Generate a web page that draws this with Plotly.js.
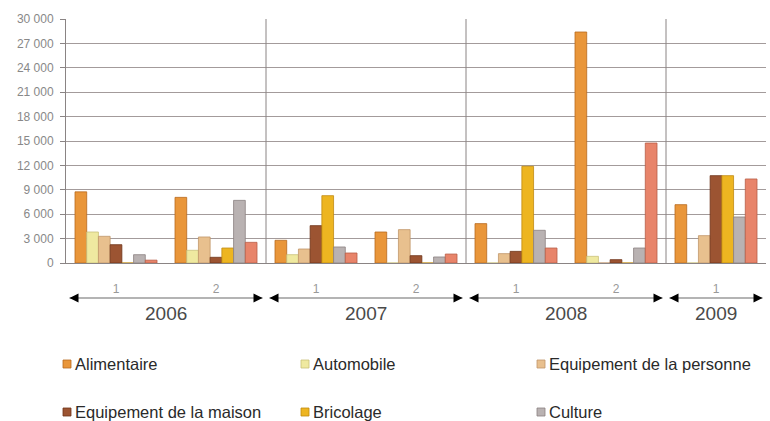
<!DOCTYPE html>
<html>
<head>
<meta charset="utf-8">
<script src="https://cdn.plot.ly/plotly-3.0.1.min.js"></script>
<style>html,body{margin:0;padding:0;background:#fff;}#chart{width:770px;height:421px;}</style>
</head>
<body>
<div id="chart"></div>
<script>
const periods = ["2006-1","2006-2","2007-1","2007-2","2008-1","2008-2","2009-1"];
const periodLabels = ["1","2","1","2","1","2","1"];
const years = ["2006","2007","2008","2009"];
const yearStart = [-0.5, 1.5, 3.5, 5.5];
const yearEnd = [1.5, 3.5, 5.5, 6.5];

const seriesNames = ["Alimentaire","Automobile","Equipement de la personne","Equipement de la maison","Bricolage","Culture",""];
const alimentaire = [8750, 8070, 2790, 3810, 4840, 28400, 7170];
const automobile = [3810, 1560, 1020, 0, 0, 820, 0];
const equipPersonne = [3280, 3200, 1720, 4100, 1150, 0, 3360];
const equipMaison = [2250, 700, 4590, 900, 1430, 410, 10740];
const bricolage = [0, 1840, 8280, 0, 11890, 0, 10740];
const culture = [1020, 7700, 1970, 740, 4020, 1840, 5660];
const autres = [350, 2540, 1230, 1100, 1840, 14750, 10330];

const values = [alimentaire, automobile, equipPersonne, equipMaison, bricolage, culture, autres];
const colors = ["#E9963A","#EFE9A0","#E8C08E","#9C5432","#EDB521","#B9B2B2","#E8846A"];
const lineColors = ["#B86A1E","#C9C07A","#C0966A","#6E3418","#C08A10","#8A8282","#B85E48"];

const traces = values.map((v, i) => ({
  type: "bar",
  name: seriesNames[i],
  x: periods,
  y: v,
  marker: {color: colors[i], line: {color: lineColors[i], width: 0.8}},
  showlegend: false,
  hoverinfo: "skip"
}));

// pixel helpers (plot area: x 66..766, y 19..263)
const PL = 66, PW = 700, PT = 19, PH = 244;
const px2x = p => (p - PL) / PW;
const py2y = p => (PT + PH - p) / PH;

const shapes = [];
const annotations = [];
[1.5, 3.5, 5.5].forEach(xv => shapes.push({type:"line", xref:"x", yref:"paper", x0:xv, x1:xv, y0:0, y1:1, line:{color:"#8a8484", width:1}}));
const arrowY = py2y(298);
years.forEach((yr, k) => {
  const s = yearStart[k] + 0.035, e = yearEnd[k] - 0.035;
  shapes.push({type:"line", xref:"x", yref:"paper", x0:s, x1:e, y0:arrowY, y1:arrowY, line:{color:"#b4b4b4", width:2}});
  annotations.push({xref:"x", yref:"paper", x:s, y:arrowY, ax:4, ay:0, axref:"pixel", ayref:"pixel", text:"", showarrow:true, arrowhead:2, arrowsize:1.2, arrowwidth:1.5, arrowcolor:"#000"});
  annotations.push({xref:"x", yref:"paper", x:e, y:arrowY, ax:-4, ay:0, axref:"pixel", ayref:"pixel", text:"", showarrow:true, arrowhead:2, arrowsize:1.2, arrowwidth:1.5, arrowcolor:"#000"});
  annotations.push({xref:"x", yref:"paper", x:(yearStart[k]+yearEnd[k])/2, y:py2y(313), text:yr, showarrow:false, font:{size:19, color:"#4a4a4a", family:"Liberation Sans, Arial"}, yanchor:"middle"});
});

// manual legend (3 columns x 2 rows)
const legCols = [63, 301, 537];
const legRows = [364, 412];
for (let i = 0; i < 6; i++) {
  const cx = legCols[i % 3], cy = legRows[Math.floor(i / 3)];
  shapes.push({type:"rect", xref:"paper", yref:"paper", x0:px2x(cx), x1:px2x(cx + 8), y0:py2y(cy + 4), y1:py2y(cy - 4), fillcolor:colors[i], line:{color:lineColors[i], width:0.8}});
  annotations.push({xref:"paper", yref:"paper", x:px2x(cx + 10), y:py2y(cy), text:seriesNames[i], showarrow:false, xanchor:"left", yanchor:"middle", font:{size:16.5, color:"#2a2a2a", family:"Liberation Sans, Arial"}});
}

const layout = {
  width: 770, height: 421,
  margin: {l:66, r:4, t:19, b:158},
  paper_bgcolor:"#fff", plot_bgcolor:"#fff",
  separators: ", ",
  barmode: "group",
  bargap: 0.18,
  bargroupgap: 0,
  font: {family:"Liberation Sans, Arial", color:"#555"},
  xaxis: {
    type:"category", tickmode:"array", tickvals: periods, ticktext: periodLabels,
    showgrid:false, zeroline:false, showline:true, linecolor:"#8a8484", linewidth:1,
    ticks:"", tickfont:{size:12, color:"#999"}, ticklabelstandoff:15, range:[-0.5, 6.5]
  },
  yaxis: {
    range:[0, 30000], tickvals:[0,3000,6000,9000,12000,15000,18000,21000,24000,27000,30000],
    tickformat:",d", showgrid:true, gridcolor:"#a39b9b", gridwidth:1,
    showline:true, linecolor:"#8a8484", zeroline:false,
    ticks:"outside", ticklen:5, tickcolor:"#8a8484",
    tickfont:{size:12, color:"#888"}, ticklabelstandoff:4
  },
  shapes: shapes,
  annotations: annotations,
  showlegend: false
};

Plotly.newPlot("chart", traces, layout, {staticPlot:true, displayModeBar:false});
</script>
</body>
</html>
